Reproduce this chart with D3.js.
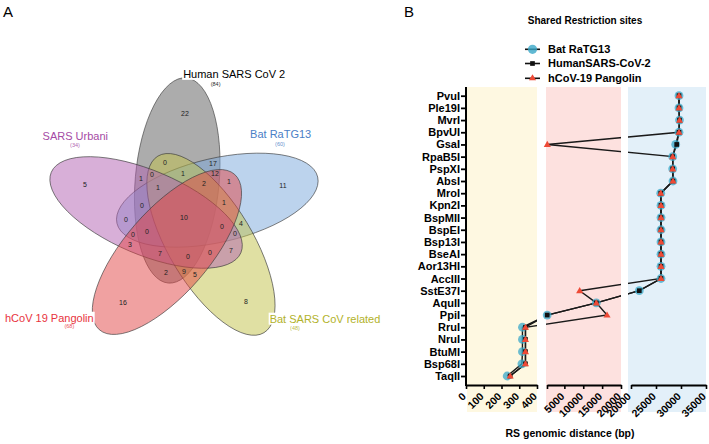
<!DOCTYPE html>
<html><head><meta charset="utf-8">
<script src="https://cdn.jsdelivr.net/npm/d3@7"></script>
<style>
body{margin:0;background:#fff}
svg{display:block}
text{font-family:"Liberation Sans",Arial,Helvetica,sans-serif}
</style>
</head><body>
<svg id="c" width="709" height="444"></svg>
<script>
// ---------------- DATA: Venn (panel A) ----------------
const vennKeys = ["H","B","Y","P","U"];
const vennSets = ["Human SARS CoV 2","Bat RaTG13","Bat SARS CoV related","hCoV 19 Pangolin","SARS Urbani"];
const vennTotals = [84,60,48,68,34];
const vennRegions = ["H","B","Y","P","U","HB","HY","HP","HU","BY","BP","BU","YP","YU","PU",
  "HBY","HBP","HBU","HYP","HYU","HPU","BYP","BYU","BPU","YPU","HBYP","HBYU","HBPU","HYPU","BYPU","HBYPU"];
const vennCounts = [22,11,8,16,5,17,0,2,1,4,1,0,5,7,3,1,12,0,9,0,7,1,0,0,0,2,1,0,0,0,10];

// ---------------- DATA: Restriction sites (panel B) ----------------
const enzymes = ["PvuI","Ple19I","MvrI","BpvUI","GsaI","RpaB5I","PspXI","AbsI","MroI","Kpn2I","BspMII","BspEI",
  "Bsp13I","BseAI","Aor13HI","AccIII","SstE37I","AquII","PpiI","RruI","NruI","BtuMI","Bsp68I","TaqII"];
const batRaTG13 = [29600,29600,29700,29600,28940,28340,28340,28400,25950,26000,26000,26000,
  26000,26000,26000,26000,21660,13460,450,318,318,318,315,232];
const humanSARSCoV2 = [29600,29600,29700,29600,29140,28340,28340,28400,25950,26000,26000,26000,
  26000,26000,26000,26000,21660,13460,450,335,335,335,335,249];
const pangolin = [29600,29600,29700,29600,480,28340,28340,28400,25950,26000,26000,26000,
  26000,26000,26000,26000,9060,13460,16300,335,335,335,335,249];
const seriesNames = ["Bat RaTG13","HumanSARS-CoV-2","hCoV-19 Pangolin"];
const ticksSeg1 = [0,100,200,300,400];
const ticksSeg2 = [400,5000,10000,15000,20000];
const labelsSeg2 = ["","5000","10000","15000","20000"];
const ticksSeg3 = [20000,25000,30000,35000];

// ---------------- LAYOUT / STYLE ----------------
const svg = d3.select("#c");
const font = '"Liberation Sans",Arial,sans-serif';

// Panel labels
svg.append("text").attr("x",3).attr("y",17).attr("font-size",15).text("A");
svg.append("text").attr("x",404).attr("y",17).attr("font-size",15).text("B");

// ----- Venn geometry -----
const vC = [183.7,217.9], vD = 38, vA = 103, vB = 42;
const vennFill = ["#5a5a5a","#7aa7dc","#c2c248","#e24444","#b25fb2"];
const vennText = ["#000000","#4a80c6","#b2b22a","#e8333d","#a54aa5"];
const rad = Math.PI/180;
const ells = vennKeys.map((k,i)=>{
  const phi = (99.8-72*i)*rad, th = phi-14.8*rad;
  return {k, i, cx:vC[0]+vD*Math.cos(phi), cy:vC[1]-vD*Math.sin(phi), th,
    e:[Math.cos(th),-Math.sin(th)], n:[Math.sin(th),Math.cos(th)]};
});
const gV = svg.append("g");
const drawOrder = [0,1,2,4,3];
gV.selectAll("ellipse").data(drawOrder.map(i=>ells[i])).join("ellipse")
  .attr("cx",d=>d.cx).attr("cy",d=>d.cy).attr("rx",vA).attr("ry",vB)
  .attr("transform",d=>`rotate(${-d.th/rad},${d.cx},${d.cy})`)
  .attr("fill",d=>vennFill[d.i]).attr("fill-opacity",0.5)
  .attr("stroke","#3a3a3a").attr("stroke-width",0.6);

function evalE(E,x,y){
  const dx=x-E.cx, dy=y-E.cy;
  const u=dx*E.e[0]+dy*E.e[1], v=dx*E.n[0]+dy*E.n[1];
  const f=u*u/(vA*vA)+v*v/(vB*vB);
  const h=Math.sqrt(f)||1e-9;
  const g=2*Math.hypot(u/(vA*vA), v/(vB*vB))||1e-9;
  return {inside:f<1, dist:Math.abs(h-1)*2*h/g};
}
// pole of inaccessibility per region
const best = {};
for(let x=30;x<=340;x+=1){
  for(let y=60;y<=350;y+=1){
    let key="", dmin=1e9;
    ells.forEach(E=>{const r=evalE(E,x,y); if(r.inside) key+=E.k; dmin=Math.min(dmin,r.dist);});
    if(!key) continue;
    if(!best[key]||best[key].d<dmin) best[key]={x,y,d:dmin};
  }
}
gV.selectAll("text.cnt").data(vennRegions.map((r,i)=>({r,c:vennCounts[i]}))).join("text")
  .attr("class","cnt").attr("x",d=>best[d.r]?best[d.r].x:0).attr("y",d=>best[d.r]?best[d.r].y:0)
  .attr("dy","0.35em").attr("text-anchor","middle").attr("font-size",7).attr("fill","#222")
  .text(d=>d.c);

// set labels, anchored relative to each ellipse's outer tip
const labOff = [[48,0],[-37,-39],[61,-10],[-50,-8],[24,-32]];
const cntOff = [[29.4,8],[-37.7,-31],[31,-2.7],[-30,-1.7],[23.7,-25.3]];
ells.forEach((E,i)=>{
  const tx=E.cx+vA*E.e[0], ty=E.cy+vA*E.e[1];
  const t = gV.append("text").attr("x",tx+labOff[i][0]).attr("y",ty+labOff[i][1])
    .attr("text-anchor","middle").attr("font-size",11).attr("fill",vennText[i]).text(vennSets[i]);
  const bb = t.node().getBBox();
  gV.insert("rect",()=>t.node()).attr("x",bb.x-1).attr("y",bb.y).attr("width",bb.width+2).attr("height",bb.height)
    .attr("fill","#fff");
  gV.append("text").attr("x",tx+cntOff[i][0]).attr("y",ty+cntOff[i][1]).attr("text-anchor","middle")
    .attr("font-size",5.5).attr("fill",vennText[i]).attr("opacity",0.85).text(`(${vennTotals[i]})`);
});

// ----- Panel B -----
const gB = svg.append("g");
const yS = d3.scalePoint().domain(enzymes).range([95.7,376]);
const x1 = d3.scaleLinear().domain([0,400]).range([466,537]);
const x2 = d3.scaleLinear().domain([400,20000]).range([547,621]);
const x3 = d3.scaleLinear().domain([20000,35000]).range([631,706]);
const X = v => v<=400 ? x1(v) : (v<=20000 ? x2(v) : x3(v));
const axisY = 385, bgTop = 87, bgBot = 412;
const panels = [
  {x0:x1(0)+1, x1:x1(400), c:"#fef8e1"},
  {x0:x2(400)-1, x1:x2(20000), c:"#fde1df"},
  {x0:x3(20000)-3, x1:x3(35000), c:"#e3f0f9"}
];
gB.selectAll("rect.bg").data(panels).join("rect").attr("class","bg")
  .attr("x",d=>d.x0).attr("y",bgTop).attr("width",d=>d.x1-d.x0).attr("height",bgBot-bgTop).attr("fill",d=>d.c);

const defs = svg.append("defs");
const cp = defs.append("clipPath").attr("id","segclip");
panels.forEach(p=>cp.append("rect").attr("x",p.x0).attr("y",0).attr("width",p.x1-p.x0).attr("height",444));

// title + legend
gB.append("text").attr("x",585).attr("y",24).attr("text-anchor","middle").attr("font-size",10)
  .attr("font-weight","bold").text("Shared Restriction sites");
const triPath = d3.symbol().type(d3.symbolTriangle).size(22)();
const sqPath = d3.symbol().type(d3.symbolSquare).size(22)();
const legY = [49.3,63.5,78.3];
seriesNames.forEach((s,i)=>{
  const g = gB.append("g").attr("transform",`translate(532.5,${legY[i]})`);
  g.append("line").attr("x1",-7.5).attr("x2",7.5).attr("stroke","#111").attr("stroke-width",1.6);
  if(i===0) g.append("circle").attr("r",4.6).attr("fill","#3aa8c8").attr("fill-opacity",0.8);
  if(i===1) g.append("path").attr("d",sqPath).attr("fill","#111");
  if(i===2) g.append("path").attr("d",triPath).attr("fill","#ee4a36");
  gB.append("text").attr("x",548).attr("y",legY[i]).attr("dy","0.35em").attr("font-size",11)
    .attr("font-weight","bold").text(s);
});

// lines
const lineGen = d3.line().x(d=>X(d.v)).y(d=>yS(d.e));
const mk = arr => enzymes.map((e,i)=>({e,v:arr[i]}));
const gL = gB.append("g").attr("clip-path","url(#segclip)");
[batRaTG13, humanSARSCoV2, pangolin].forEach(arr=>{
  gL.append("path").attr("d",lineGen(mk(arr))).attr("fill","none").attr("stroke","#1a1a1a").attr("stroke-width",1.4);
});
// markers
gB.selectAll("circle.bat").data(mk(batRaTG13)).join("circle").attr("class","bat")
  .attr("cx",d=>X(d.v)).attr("cy",d=>yS(d.e)).attr("r",4.4).attr("fill","#3aa8c8").attr("fill-opacity",0.75);
gB.selectAll("path.hum").data(mk(humanSARSCoV2)).join("path").attr("class","hum")
  .attr("d",sqPath).attr("transform",d=>`translate(${X(d.v)},${yS(d.e)})`).attr("fill","#111");
gB.selectAll("path.pang").data(mk(pangolin)).join("path").attr("class","pang")
  .attr("d",triPath).attr("transform",d=>`translate(${X(d.v)},${yS(d.e)+0.5})`).attr("fill","#ee4a36");

// Y axis
const ya = gB.append("g").attr("transform",`translate(466,0)`)
  .call(d3.axisLeft(yS).tickSize(5).tickPadding(1));
ya.select(".domain").remove();
ya.selectAll(".tick line").attr("stroke","#000").attr("stroke-width",1.8);
ya.selectAll(".tick text").attr("font-family",font).attr("font-size",11).attr("font-weight","bold").attr("fill","#000");
gB.append("line").attr("x1",466).attr("x2",466).attr("y1",bgTop).attr("y2",axisY+1)
  .attr("stroke","#000").attr("stroke-width",2);

// X axes (broken)
const segs = [[x1,ticksSeg1,ticksSeg1.map(String)],[x2,ticksSeg2,labelsSeg2],[x3,ticksSeg3,ticksSeg3.map(String)]];
segs.forEach(([sc,tv,lb])=>{
  const ax = gB.append("g").attr("transform",`translate(0,${axisY})`)
    .call(d3.axisBottom(sc).tickValues(tv).tickSize(4).tickSizeOuter(0).tickFormat((d,i)=>lb[i]));
  ax.select(".domain").attr("stroke","#000").attr("stroke-width",2);
  ax.selectAll(".tick line").attr("stroke","#000").attr("stroke-width",1.6);
  ax.selectAll(".tick text").attr("font-family",font).attr("font-size",10.5).attr("font-weight","bold").attr("fill","#000")
    .attr("text-anchor","end").attr("y",0).attr("dy","0.7em")
    .attr("transform","translate(-5,7) rotate(-45)");
});
gB.append("text").attr("x",570).attr("y",437).attr("text-anchor","middle").attr("font-size",10.5)
  .attr("font-weight","bold").text("RS genomic distance (bp)");
</script>
</body></html>
